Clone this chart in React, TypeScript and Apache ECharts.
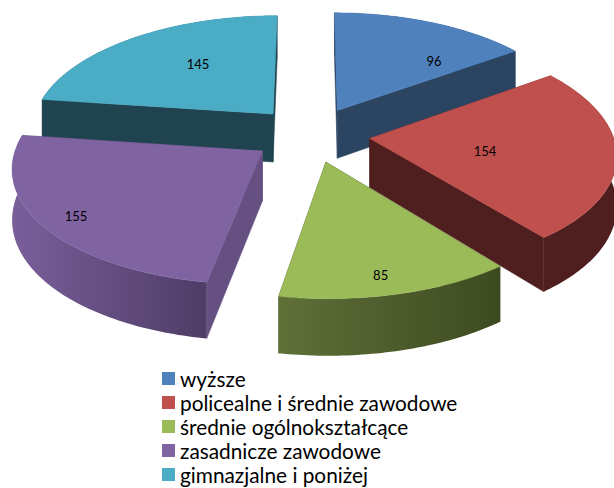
import React, { useEffect, useRef } from "react";
import * as echarts from "echarts";

const categories = ["wyższe", "policealne i średnie zawodowe", "średnie ogólnokształcące", "zasadnicze zawodowe", "gimnazjalne i poniżej"];
const values = [96, 154, 85, 155, 145];
const topColors = ["#4F81BD", "#C0504D", "#9BBB59", "#8064A2", "#4BACC6"];
const wallColors = ["#2A4462", "#4E1F1E", "#3F4C22", "#665082", "#1F444F"];
const sideLight = ["#2A4462", "#4E1F1E", "#5F7038", "#7A5F9B", "#1F444F"];
const sideDark = ["#2A4462", "#4E1F1E", "#3D4A20", "#4E3C66", "#1F444F"];
const labelAngleFrac = [0.78, 0.557, 0.533, 0.49, 0.57];
const labelRadius = [0.65, 0.475, 0.865, 0.865, 0.595];
const drawOrder = [0, 4, 1, 3, 2];

const CX = 311, CY = 134.5, SCALE_X = 243, SCALE_Y = 114, PERSPECTIVE_X = 0.125, PERSPECTIVE_Y = 0.1148, EXPLODE = 0.243, DEPTH = 49;

const total = values.reduce((a, b) => a + b, 0);
const startAngle = (i: number) => values.slice(0, i).reduce((a, b) => a + b, 0) / total * Math.PI * 2;

const project = (X: number, Y: number, down = 0): number[] => {
  const w = 1 - PERSPECTIVE_Y * Y;
  const wx = 1 - PERSPECTIVE_X * Y;
  return [CX + SCALE_X * X / wx, CY + SCALE_Y * Y / w + (down ? DEPTH / w : 0)];
};

function renderSlice(i: number, v: number) {
  const a0 = startAngle(i);
  const a1 = a0 + v / total * Math.PI * 2;
  const mid = (a0 + a1) / 2;
  const ox = EXPLODE * Math.sin(mid);
  const oy = -EXPLODE * Math.cos(mid);
  const world = (a: number, r: number) => [ox + r * Math.sin(a), oy - r * Math.cos(a)];
  const steps = Math.max(8, Math.ceil((a1 - a0) / (Math.PI / 180)));
  const top: number[][] = [];
  const low: number[][] = [];
  for (let s = 0; s <= steps; s++) {
    const [X, Y] = world(a0 + (a1 - a0) * s / steps, 1);
    top.push(project(X, Y));
    low.push(project(X, Y, 1));
  }
  const apexT = project(ox, oy);
  const apexB = project(ox, oy, 1);
  const wall = (t: number[], b: number[]) => ({
    type: "polygon",
    shape: { points: [apexT, t, b, apexB] },
    style: { fill: wallColors[i], stroke: wallColors[i], lineWidth: 0.5 },
  });
  const sideFill = new echarts.graphic.LinearGradient(0, 0, 1, 0, [
    { offset: 0, color: sideLight[i] },
    { offset: 1, color: sideDark[i] },
  ]);
  const [lx, ly] = world(a0 + (a1 - a0) * labelAngleFrac[i], labelRadius[i]);
  const lp = project(lx, ly);
  return {
    type: "group",
    children: [
      wall(top[0], low[0]),
      wall(top[top.length - 1], low[low.length - 1]),
      { type: "polygon", shape: { points: [...top, ...low.slice().reverse()] }, style: { fill: sideFill } },
      {
        type: "polygon",
        shape: { points: [apexT, ...top] },
        style: { fill: topColors[i], stroke: topColors[i], lineWidth: 0.5 },
      },
      {
        type: "text",
        x: lp[0],
        y: lp[1],
        style: { text: String(v), fill: "#000", font: "13px Lato", align: "center", verticalAlign: "middle" },
      },
    ],
  };
}

export default function App() {
  const ref = useRef<HTMLDivElement>(null);
  useEffect(() => {
    const chart = echarts.init(ref.current!, null, { renderer: "svg" });
    chart.setOption({
      animation: false,
      backgroundColor: "#fff",
      legend: {
        data: categories,
        orient: "vertical",
        left: 162,
        top: 368,
        height: 160,
        icon: "rect",
        itemWidth: 13,
        itemHeight: 13,
        itemGap: 3,
        padding: 0,
        selectedMode: false,
        textStyle: { fontFamily: "Lato", fontSize: 20.8, color: "#000", height: 19.5, lineHeight: 19.5 },
      },
      series: drawOrder.map((i) => ({
        type: "custom",
        name: categories[i],
        coordinateSystem: "none",
        silent: true,
        itemStyle: { color: topColors[i] },
        data: [values[i]],
        renderItem: (_p: unknown, api: any) => renderSlice(i, api.value(0)),
      })),
    });
    return () => chart.dispose();
  }, []);
  return <div ref={ref} style={{ position: "absolute", left: 0, top: 0, width: 614, height: 488 }} />;
}
